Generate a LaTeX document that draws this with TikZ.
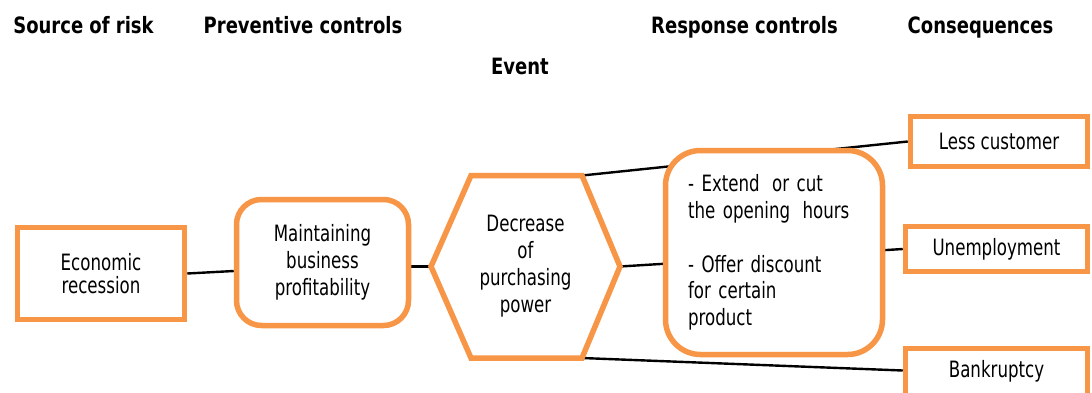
\documentclass[tikz,border=0pt]{standalone}
\usepackage{fontspec}
\setmainfont[FakeStretch=0.74,BoldFeatures={FakeStretch=0.8}]{DejaVu Sans}
\usetikzlibrary{calc,backgrounds}
\definecolor{orng}{HTML}{F79646}
\newcommand{\bodyfnt}{\fontsize{22.5}{26.8}\selectfont}
\newcommand{\headfnt}{\fontsize{22.5}{26.8}\selectfont\bfseries}
\newcommand{\wsp}{\hspace{0.55em}}
\begin{document}
\begin{tikzpicture}[x=1pt,y=-1pt,
  box/.style={draw=orng, line width=5.5pt, fill=white, inner sep=0pt, align=center, font=\bodyfnt},
  rbox/.style={box, rounded corners=25pt},
  head/.style={font=\headfnt, anchor=base, inner sep=0pt},
  conn/.style={line width=2.4pt, black},
  plain/.style={font=\bodyfnt, align=center, inner sep=0pt}]
\useasboundingbox (0,0) rectangle (1092,392);

% headings
\node[head] (h1) at (83.5,33) {Source of risk};
\node[head] (h2) at (303,33) {Preventive controls};
\node[head] (h3) at (744.5,33) {Response controls};
\node[head] (h4) at (980.5,33) {Consequences};
\node[head] (h5) at (520,74) {Event};

% boxes
\node[box, minimum width=167pt, minimum height=92pt, font=\fontsize{22.5}{23.5}\selectfont] (rec) at (101,273.5) {Economic\\recession};
\node[rbox, minimum width=172pt, minimum height=126pt] (maint) at (322.5,262.5) {Maintaining\\business\\profitability};

% hexagon
\coordinate (hL) at (431,266.5);
\coordinate (hTL) at (471,175.5);
\coordinate (hTR) at (582,175.5);
\coordinate (hR) at (620,266.5);
\coordinate (hBR) at (582,358);
\coordinate (hBL) at (471,358);
\draw[draw=orng, line width=5.5pt, fill=white] (hL) -- (hTL) -- (hTR) -- (hR) -- (hBR) -- (hBL) -- cycle;
\node[plain] (ev) at (525.5,266) {Decrease\\of\\purchasing\\power};

\node[box, rounded corners=35pt, minimum width=217pt, minimum height=204pt, align=left, text width=172pt] (resp) at (774,252.5)
  {- Extend\wsp or cut\\the opening\wsp hours\\[26.8pt]- Offer discount\\for certain\\product};

\node[box, minimum width=177pt, minimum height=50pt] (less) at (999,141.5) {Less customer};
\node[box, minimum width=182pt, minimum height=45pt] (unemp) at (996.5,249) {Unemployment};
\node[box, minimum width=182pt, minimum height=64pt, text depth=24pt] (bank) at (996.5,380.5) {Bankruptcy};

\begin{pgfonlayer}{background}
\draw[conn] (rec.east) -- ($(maint.west)+(0,8.5)$);
\draw[conn] ($(maint.east)+(0,4)$) -- (hL);
\draw[conn] (hTR) -- (less.west);
\draw[conn] (hR) -- (unemp.west);
\draw[conn] (hBR) -- ($(bank.west)+(0,-10)$);
\end{pgfonlayer}
\end{tikzpicture}
\end{document}
